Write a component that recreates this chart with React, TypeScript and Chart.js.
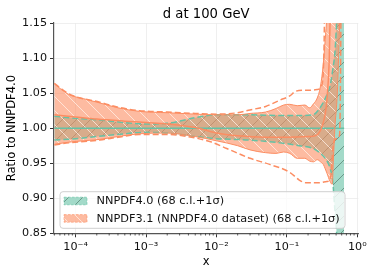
import React, { useEffect, useRef } from 'react';
import { Chart, registerables } from 'chart.js';
Chart.register(...registerables);

// ---------------- data ----------------
const TITLE = 'd at 100 GeV';
const X_LABEL = 'x';
const Y_LABEL = 'Ratio to NNPDF4.0';
const LEGEND_LABELS = ['NNPDF4.0 (68 c.l.+1σ)', 'NNPDF3.1 (NNPDF4.0 dataset) (68 c.l.+1σ)'];
const X_TICKS = [1e-4, 1e-3, 1e-2, 1e-1, 1];
const X_TICK_LABELS = ['10⁻⁴', '10⁻³', '10⁻²', '10⁻¹', '10⁰'];
const Y_TICKS = [0.85, 0.9, 0.95, 1.0, 1.05, 1.1, 1.15];

// NNPDF4.0 band (68 c.l. / 1 sigma)
const GX = [5e-5, 1e-4, 2e-4, 5e-4, 1e-3, 2e-3, 3e-3, 5e-3, 1e-2, 3e-2, 8e-2, 0.15, 0.235, 0.3, 0.36, 0.41, 0.45, 0.48, 0.51, 0.55, 0.6, 0.65];
const GU = [1.017, 1.014, 1.012, 1.008, 1.006, 1.007, 1.010, 1.015, 1.019, 1.019, 1.018, 1.018, 1.019, 1.030, 1.045, 1.060, 1.085, 1.107, 1.155, 1.25, 1.5, 1.8];
const GL = [0.983, 0.985, 0.988, 0.992, 0.994, 0.993, 0.991, 0.988, 0.985, 0.983, 0.979, 0.975, 0.971, 0.964, 0.955, 0.943, 0.922, 0.883, 0.848, 0.75, 0.6, 0.4];
const GCX = [5e-5, 0.65];
const GC = [1.0, 1.0];

// NNPDF3.1 band (68 c.l.)
const OX = [5e-5, 8e-5, 1.3e-4, 2.2e-4, 4e-4, 8e-4, 2e-3, 5e-3, 1e-2, 2e-2, 3e-2, 5e-2, 7e-2, 9e-2, 0.11, 0.14, 0.18, 0.21, 0.24, 0.27, 0.3, 0.33, 0.35, 0.37, 0.41, 0.44, 0.46, 0.48, 0.52, 0.56, 0.6];
const OU = [1.063, 1.048, 1.042, 1.036, 1.029, 1.024, 1.022, 1.020, 1.019, 1.019, 1.021, 1.023, 1.028, 1.033, 1.034, 1.032, 1.033, 1.029, 1.035, 1.043, 1.060, 1.093, 1.126, 1.16, 1.25, 1.35, 1.45, 1.55, 1.7, 1.85, 2.0];
const OL = [0.977, 0.980, 0.982, 0.984, 0.988, 0.992, 0.993, 0.988, 0.982, 0.975, 0.969, 0.965, 0.964, 0.966, 0.964, 0.957, 0.957, 0.953, 0.952, 0.955, 0.952, 0.948, 0.942, 0.936, 0.924, 0.920, 0.960, 1.000, 1.050, 1.150, 1.300];
// NNPDF3.1 central
const OCX = [5e-5, 1e-4, 2e-4, 5e-4, 1e-3, 2e-3, 5e-3, 1e-2, 2e-2, 5e-2, 0.1, 0.2, 0.25, 0.28, 0.315, 0.35, 0.37, 0.40, 0.41, 0.43];
const OC = [1.019, 1.016, 1.013, 1.010, 1.008, 1.006, 1.001, 0.993, 0.989, 0.987, 0.987, 0.988, 0.989, 0.992, 1.002, 1.02, 1.04, 1.1, 1.15, 1.3];
// NNPDF3.1 1 sigma
const ODUX = [5e-5, 8e-5, 2.2e-4, 4e-4, 8e-4, 2e-3, 5e-3, 1e-2, 2e-2, 3e-2, 5e-2, 8e-2, 0.11, 0.13, 0.17, 0.22, 0.27, 0.31, 0.33, 0.34, 0.35];
const ODU = [1.064, 1.049, 1.037, 1.030, 1.025, 1.023, 1.021, 1.020, 1.022, 1.026, 1.031, 1.040, 1.046, 1.052, 1.054, 1.054, 1.055, 1.060, 1.085, 1.14, 1.3];
const ODLX = [5e-5, 8e-5, 2.2e-4, 4e-4, 8e-4, 2e-3, 5e-3, 8e-3, 1.4e-2, 3e-2, 5.8e-2, 0.11, 0.15, 0.19, 0.29, 0.37, 0.41, 0.43, 0.45, 0.5, 0.56, 0.58, 0.6];
const ODL = [0.976, 0.979, 0.983, 0.987, 0.991, 0.991, 0.986, 0.981, 0.971, 0.957, 0.948, 0.937, 0.926, 0.922, 0.922, 0.924, 0.926, 0.94, 0.97, 0.985, 0.99, 1.1, 1.4];

// ---------------- styles ----------------
const GREEN = '#66c2a5';
const ORANGE = '#fc8d62';
const FONT = "'DejaVu Sans', sans-serif";

const pts = (xs: number[], ys: number[]) => xs.map((x, i) => ({ x, y: ys[i] }));

function makeHatch(fill: string, line: string, dir: '/' | '\\') {
  const s = 14;
  const c = document.createElement('canvas');
  c.width = s;
  c.height = s;
  const g = c.getContext('2d')!;
  g.fillStyle = fill;
  g.fillRect(0, 0, s, s);
  g.strokeStyle = line;
  g.lineWidth = 1;
  g.beginPath();
  if (dir === '/') {
    g.moveTo(-2, s + 2); g.lineTo(s + 2, -2);
    g.moveTo(-2, 2); g.lineTo(2, -2);
    g.moveTo(s - 2, s + 2); g.lineTo(s + 2, s - 2);
  } else {
    g.moveTo(-2, -2); g.lineTo(s + 2, s + 2);
    g.moveTo(-2, s - 2); g.lineTo(2, s + 2);
    g.moveTo(s - 2, -2); g.lineTo(s + 2, 2);
  }
  g.stroke();
  return g.createPattern(c, 'repeat')!;
}

export default function App() {
  const ref = useRef<HTMLCanvasElement>(null);
  useEffect(() => {
    const greenPat = makeHatch('rgba(102,194,165,0.6)', 'rgba(60,100,85,0.55)', '/');
    const orangePat = makeHatch('rgba(252,141,98,0.6)', 'rgba(255,240,232,0.75)', '\\');

    const decor = {
      id: 'decor',
      afterDraw(chart: any) {
        const ctx = chart.ctx;
        const a = chart.chartArea;
        const xs = chart.scales.x;
        ctx.save();
        // minor ticks
        ctx.strokeStyle = '#333';
        ctx.lineWidth = 0.8;
        for (let n = -5; n <= 0; n++) {
          for (let k = 2; k <= 9; k++) {
            const v = k * Math.pow(10, n);
            if (v < xs.min || v > xs.max) continue;
            const px = xs.getPixelForValue(v);
            ctx.beginPath();
            ctx.moveTo(px, a.bottom);
            ctx.lineTo(px, a.bottom + 2.2);
            ctx.stroke();
          }
        }
        // title
        ctx.fillStyle = '#000';
        ctx.font = `13.2px ${FONT}`;
        ctx.textAlign = 'center';
        ctx.textBaseline = 'alphabetic';
        ctx.fillText(TITLE, (a.left + a.right) / 2, 18);
        // axis labels
        ctx.font = `11.5px ${FONT}`;
        ctx.textBaseline = 'middle';
        ctx.fillText(X_LABEL, (a.left + a.right) / 2, 262);
        ctx.save();
        ctx.translate(12, (a.top + a.bottom) / 2);
        ctx.rotate(-Math.PI / 2);
        ctx.fillText(Y_LABEL, 0, 0);
        ctx.restore();
        // legend
        const lx = 60, ly = 191.7, lw = 285, lh = 36.6;
        ctx.beginPath();
        ctx.roundRect(lx, ly, lw, lh, 3);
        ctx.fillStyle = 'rgba(255,255,255,0.8)';
        ctx.fill();
        ctx.strokeStyle = '#d0d0d0';
        ctx.lineWidth = 1;
        ctx.stroke();
        const rows = [
          { y: 201, pat: greenPat, col: GREEN },
          { y: 218.4, pat: orangePat, col: ORANGE },
        ];
        rows.forEach((r, i) => {
          ctx.fillStyle = r.pat;
          ctx.fillRect(64, r.y - 3.8, 23, 7.6);
          ctx.setLineDash([2.5, 1.5]);
          ctx.strokeStyle = r.col;
          ctx.globalAlpha = 0.6;
          ctx.strokeRect(64, r.y - 3.8, 23, 7.6);
          ctx.globalAlpha = 1;
          ctx.setLineDash([]);
          ctx.fillStyle = '#111';
          ctx.font = `11.3px ${FONT}`;
          ctx.textAlign = 'left';
          ctx.textBaseline = 'middle';
          ctx.fillText(LEGEND_LABELS[i], 96.5, r.y + 0.5);
        });
        ctx.restore();
      },
    };

    const line = (data: any, color: string, width: number, dash: number[] = [], extra: any = {}) => ({
      data,
      borderColor: color,
      borderWidth: width,
      borderDash: dash,
      pointRadius: 0,
      fill: false,
      cubicInterpolationMode: 'monotone',
      ...extra,
    });

    const chart = new Chart(ref.current!, {
      type: 'line',
      data: {
        datasets: [
          line(pts(OCX, OC), ORANGE, 1.5),
          line(pts(ODUX, ODU), ORANGE, 1.5, [6, 3]),
          line(pts(ODLX, ODL), ORANGE, 1.5, [6, 3]),
          line(pts(OX, OU), ORANGE, 1, [], { fill: 4, backgroundColor: orangePat }),
          line(pts(OX, OL), ORANGE, 1),
          line(pts(GCX, GC), GREEN, 1.5),
          line(pts(GX, GU), GREEN, 1.5, [6, 3], { fill: 7, backgroundColor: greenPat }),
          line(pts(GX, GL), GREEN, 1.5, [6, 3]),
        ] as any,
      },
      options: {
        animation: false,
        responsive: false,
        devicePixelRatio: 1,
        layout: { padding: { top: 23, right: 15.7, left: 0, bottom: 0 } },
        plugins: {
          legend: { display: false },
          tooltip: { enabled: false },
          filler: { propagate: false, drawTime: 'beforeDatasetsDraw' } as any,
        },
        scales: {
          x: {
            type: 'logarithmic',
            min: 4.94e-5,
            max: 1.033,
            afterFit: (s: any) => { s.height = 41.7; },
            afterBuildTicks: (s: any) => { s.ticks = X_TICKS.map((v) => ({ value: v })); },
            ticks: {
              autoSkip: false,
              maxRotation: 0,
              padding: 3,
              color: '#111',
              font: { family: FONT, size: 11.2 },
              callback: (v: any) => {
                const i = X_TICKS.findIndex((t) => Math.abs(Math.log10(t) - Math.log10(Number(v))) < 1e-6);
                return i >= 0 ? X_TICK_LABELS[i] : '';
              },
            },
            grid: { color: '#ebebeb', lineWidth: 0.8, tickColor: '#333', tickLength: 4, tickWidth: 1 },
            border: { color: '#555', width: 1.2 },
          },
          y: {
            type: 'linear',
            min: 0.85,
            max: 1.15,
            afterFit: (s: any) => { s.width = 54; },
            afterBuildTicks: (s: any) => { s.ticks = Y_TICKS.map((v) => ({ value: v })); },
            ticks: {
              padding: 3,
              color: '#111',
              font: { family: FONT, size: 11.2 },
              callback: (v: any) => Number(v).toFixed(2),
            },
            grid: { color: '#ebebeb', lineWidth: 0.8, tickColor: '#333', tickLength: 4, tickWidth: 1 },
            border: { color: '#555', width: 1.2 },
          },
        },
      },
      plugins: [decor],
    });
    return () => chart.destroy();
  }, []);

  return (
    <div style={{ position: 'fixed', left: 0, top: 0, width: 374, height: 275, background: '#fff' }}>
      <canvas ref={ref} width={374} height={275} style={{ width: 374, height: 275, display: 'block' }} />
    </div>
  );
}
